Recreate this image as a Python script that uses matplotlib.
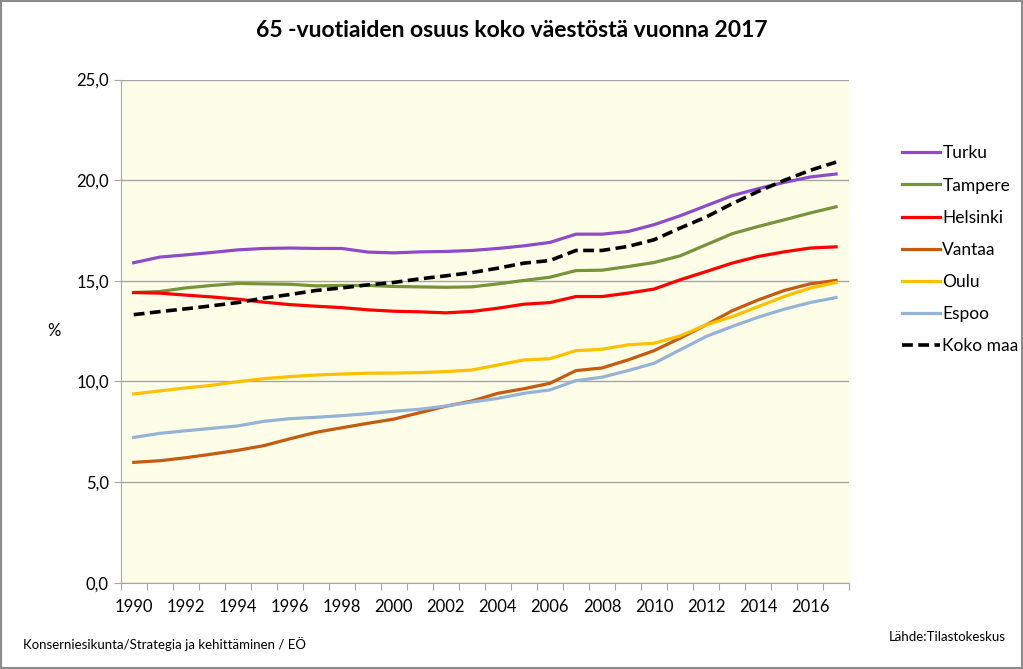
import matplotlib.pyplot as plt
from matplotlib.patches import Rectangle

years = list(range(1990, 2018))

turku = [15.9, 16.18, 16.29, 16.41, 16.54, 16.61, 16.63, 16.61, 16.61, 16.43, 16.39, 16.44, 16.46, 16.51,
         16.61, 16.74, 16.91, 17.32, 17.32, 17.45, 17.79, 18.23, 18.73, 19.23, 19.58, 19.89, 20.16, 20.31]
tampere = [14.42, 14.47, 14.65, 14.77, 14.87, 14.85, 14.83, 14.75, 14.77, 14.77, 14.72, 14.7, 14.68, 14.7,
           14.85, 15.02, 15.18, 15.51, 15.53, 15.71, 15.91, 16.24, 16.79, 17.34, 17.7, 18.03, 18.37, 18.68]
helsinki = [14.42, 14.39, 14.29, 14.2, 14.09, 13.94, 13.82, 13.74, 13.67, 13.56, 13.49, 13.46, 13.41, 13.48,
            13.64, 13.84, 13.92, 14.22, 14.22, 14.39, 14.59, 15.05, 15.46, 15.88, 16.21, 16.44, 16.63, 16.69]
vantaa = [5.98, 6.06, 6.21, 6.39, 6.58, 6.81, 7.15, 7.47, 7.7, 7.92, 8.13, 8.45, 8.77, 9.03,
          9.41, 9.64, 9.91, 10.54, 10.67, 11.07, 11.53, 12.15, 12.81, 13.51, 14.05, 14.52, 14.85, 15.02]
oulu = [9.38, 9.53, 9.68, 9.81, 9.99, 10.14, 10.24, 10.32, 10.37, 10.41, 10.42, 10.44, 10.49, 10.57,
        10.82, 11.07, 11.13, 11.53, 11.6, 11.82, 11.9, 12.26, 12.81, 13.22, 13.72, 14.22, 14.64, 14.92]
espoo = [7.22, 7.42, 7.55, 7.67, 7.79, 8.02, 8.15, 8.22, 8.3, 8.4, 8.52, 8.62, 8.78, 8.98,
         9.16, 9.41, 9.58, 10.04, 10.21, 10.54, 10.9, 11.57, 12.23, 12.73, 13.19, 13.59, 13.92, 14.17]
koko_maa = [13.32, 13.47, 13.61, 13.76, 13.92, 14.14, 14.32, 14.52, 14.65, 14.8, 14.92, 15.1, 15.25, 15.41,
            15.63, 15.88, 16.01, 16.51, 16.51, 16.71, 17.04, 17.62, 18.17, 18.83, 19.44, 19.99, 20.49, 20.9]

series = [
    ("Turku", turku, "#8E4BC9", "-"),
    ("Tampere", tampere, "#77933C", "-"),
    ("Helsinki", helsinki, "#FF0000", "-"),
    ("Vantaa", vantaa, "#C55A11", "-"),
    ("Oulu", oulu, "#FFC000", "-"),
    ("Espoo", espoo, "#95B3D7", "-"),
    ("Koko maa", koko_maa, "#000000", "--"),
]

plt.rcParams['font.family'] = ['Lato', 'DejaVu Sans']

fig = plt.figure(figsize=(10.23, 6.69), dpi=100)
fig.patches.append(Rectangle((0.001, 0.001), 0.998, 0.997, transform=fig.transFigure,
                             fill=False, edgecolor="#8C8C8C", linewidth=1.5))
ax = fig.add_axes([0.118, 0.129, 0.712, 0.752])
ax.set_facecolor("#FEFEE8")

x = list(range(len(years)))
for name, vals, col, ls in series:
    if ls == "--":
        ax.plot(x, vals, color=col, linestyle=(0, (3, 1.5)), linewidth=2.6, label=name)
    else:
        ax.plot(x, vals, color=col, linewidth=2.3, label=name)

ax.set_xlim(-0.5, len(years) - 0.5)
ax.set_ylim(0, 25)
ax.set_yticks([0, 5, 10, 15, 20, 25])
ax.set_yticklabels(["0,0", "5,0", "10,0", "15,0", "20,0", "25,0"], fontsize=12)
ax.yaxis.grid(True, color="#A6A6A6", linewidth=1)
ax.set_axisbelow(True)

# tick marks between categories, labels on every other year
ax.set_xticks([i - 0.5 for i in range(len(years) + 1)], minor=False)
ax.set_xticklabels([])
ax.set_xticks(x[::2], minor=True)
ax.set_xticklabels([str(y) for y in years[::2]], minor=True, fontsize=12)
ax.tick_params(axis="x", which="major", length=5, color="#A6A6A6", direction="out")
ax.tick_params(axis="x", which="minor", length=0, pad=12)
ax.tick_params(axis="y", length=5, color="#A6A6A6", direction="out")

for s in ["top", "right"]:
    ax.spines[s].set_visible(False)
ax.spines["left"].set_color("#A6A6A6")
ax.spines["bottom"].set_color("#A6A6A6")

ax.set_ylabel("%", rotation=0, fontsize=12, labelpad=16, va="center")

fig.text(0.5, 0.955, "65 -vuotiaiden osuus koko väestöstä vuonna 2017", ha="center", va="center",
         fontsize=16.5, fontweight="bold")

ax.legend(loc="upper left", bbox_to_anchor=(0.866, 0.806), bbox_transform=fig.transFigure,
          frameon=False, fontsize=12.5, handlelength=2.2, handletextpad=0.15, labelspacing=0.93)

fig.text(0.022, 0.038, "Konserniesikunta/Strategia ja kehittäminen / EÖ", fontsize=9.5, va="center")
fig.text(0.983, 0.048, "Lähde:Tilastokeskus", fontsize=9.5, va="center", ha="right")

fig.savefig("out.png", dpi=100)
